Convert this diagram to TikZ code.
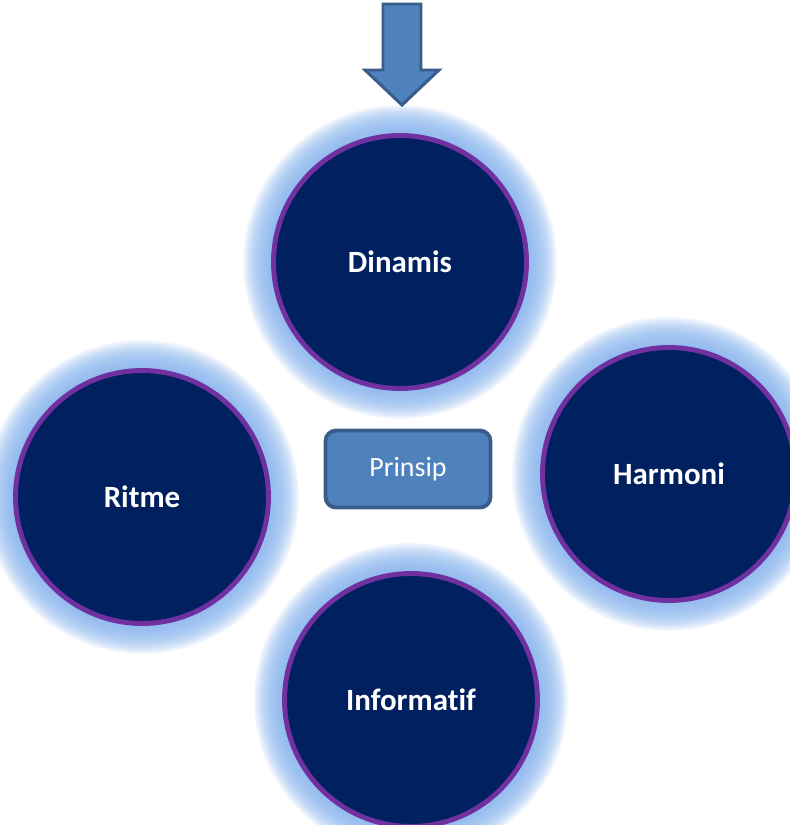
\documentclass[tikz,border=0pt]{standalone}
\usepackage{fontspec}
\setmainfont{Carlito}[Ligatures=CommonOff]
\definecolor{navy}{HTML}{002060}
\definecolor{ringpurple}{HTML}{7030A0}
\definecolor{glowblue}{HTML}{85B2EC}
\definecolor{boxblue}{HTML}{4F81BD}
\definecolor{boxedge}{HTML}{385D8A}
\tikzset{
  glow/.style={fill=glowblue, fill opacity=0.1},
  bubble/.style={circle, fill=navy, draw=ringpurple, line width=2.8pt,
    minimum size=5.06cm, inner sep=0pt, text=white,
    font=\fontsize{17.6}{20}\selectfont\bfseries},
  centrebox/.style={rectangle, rounded corners=6pt, fill=boxblue, draw=boxedge,
    line width=2.2pt, minimum width=3.3cm, minimum height=1.54cm, text=white,
    font=\fontsize{15.9}{18}\selectfont}
}
\begin{document}
\begin{tikzpicture}[x=0.02cm, y=-0.02cm]
  \useasboundingbox (0,0) rectangle (789,825);
  % soft halo behind each circle
  \foreach \cx/\cy in {400/262, 669/474, 142/497, 411/700} {
    \foreach \k in {1,...,20}
      \fill[glow] (\cx,\cy) circle[radius=127+1.5*\k];
  }
  % arrow from the top
  \draw[fill=boxblue, draw=boxedge, line width=1.7pt, line join=miter]
    (383,4) -- (421,4) -- (421,70) -- (439,70) -- (402,105)
    -- (365,70) -- (383,70) -- cycle;
  % circles
  \node[bubble] (dinamis) at (400,262) {Dinamis};
  \node[bubble] (harmoni) at (669,474) {Harmoni};
  \node[bubble] (ritme) at (142,497) {Ritme};
  \node[bubble] (informatif) at (411,700) {Informatif};
  % centre
  \node[centrebox] (prinsip) at (408,469) {Prinsip};
\end{tikzpicture}
\end{document}
